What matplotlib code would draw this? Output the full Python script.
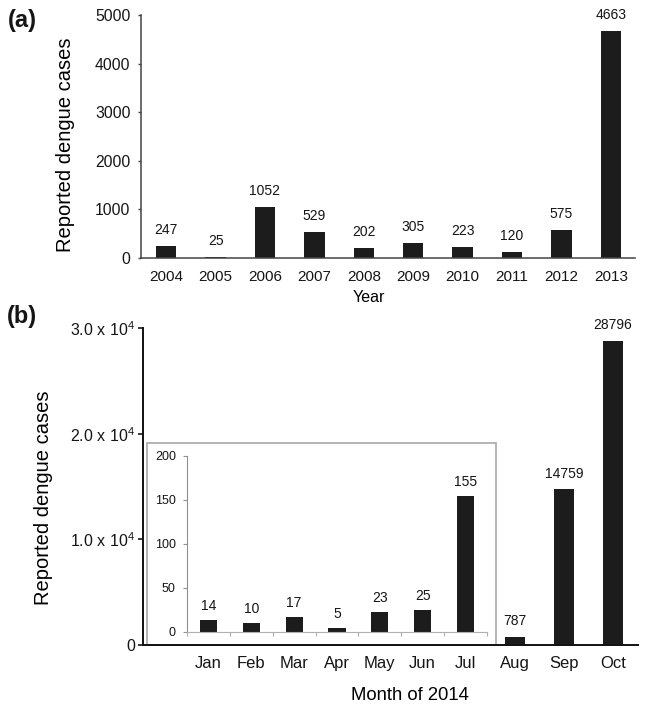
import matplotlib
matplotlib.use("Agg")
import matplotlib.pyplot as plt
import matplotlib.patches as patches
import numpy as np

plt.rcParams["font.family"] = "Liberation Sans"
plt.rcParams["mathtext.fontset"] = "custom"
plt.rcParams["mathtext.rm"] = "Liberation Sans"
plt.rcParams["mathtext.it"] = "Liberation Sans:italic"
plt.rcParams["mathtext.bf"] = "Liberation Sans:bold"
plt.rcParams["text.color"] = "#151515"
plt.rcParams["xtick.color"] = "#151515"
plt.rcParams["ytick.color"] = "#151515"

# ---- data ----
years = ["2004", "2005", "2006", "2007", "2008", "2009", "2010", "2011", "2012", "2013"]
year_cases = [247, 25, 1052, 529, 202, 305, 223, 120, 575, 4663]

months = ["Jan", "Feb", "Mar", "Apr", "May", "Jun", "Jul", "Aug", "Sep", "Oct"]
month_cases = [14, 10, 17, 5, 23, 25, 155, 787, 14759, 28796]

year_yticks = [0, 1000, 2000, 3000, 4000, 5000]
month_yticks = [0, 10000, 20000, 30000]
month_yticklabels = ["0", "1.0 x 10$^{4}$", "2.0 x 10$^{4}$", "3.0 x 10$^{4}$"]
inset_yticks = [0, 50, 100, 150, 200]
n_inset = 7  # Jan..Jul go in the zoomed inset

BAR = "#1c1c1c"
W, H = 645, 707


def px_rect(left, top, right, bottom):
    # pixel box -> figure fraction [l, b, w, h]
    return [left / W, 1 - bottom / H, (right - left) / W, (bottom - top) / H]


fig = plt.figure(figsize=(W / 100, H / 100), dpi=100)

# =============================================================================
# (a) yearly cases
# =============================================================================
ax_a = fig.add_axes(px_rect(141, 15, 635, 258))
xa = np.arange(len(years))
bars_a = ax_a.bar(xa, year_cases, width=0.41, color=BAR)
ax_a.bar_label(bars_a, padding=6.5, fontsize=10)
ax_a.set_xlim(-0.51, 9.49)
ax_a.set_ylim(0, 5000)
ax_a.set_xticks(xa, years)
ax_a.set_yticks(year_yticks)
ax_a.tick_params(axis="x", length=0, pad=8.5, labelsize=11)
ax_a.tick_params(axis="y", length=2.5, width=1, pad=5, labelsize=11.3, color="#444444")
for s in ["top", "right"]:
    ax_a.spines[s].set_visible(False)
for s in ["left", "bottom"]:
    ax_a.spines[s].set_color("#444444")
    ax_a.spines[s].set_linewidth(1.1)
ax_a.set_xlabel("Year", fontsize=11.5)
ax_a.xaxis.set_label_coords((369 - 141) / 494, -(290 - 258) / 243)
ax_a.set_ylabel("Reported dengue cases", fontsize=14.5, va="center")
ax_a.yaxis.set_label_coords(-0.152, 0.465)

fig.text(22 / W, 1 - 21 / H, "(a)", fontsize=17, fontweight="bold", ha="center", va="center")

# =============================================================================
# (b) monthly cases 2014 with inset for Jan-Jul
# =============================================================================
pos = np.arange(len(months))

# white box behind the inset
box = patches.Rectangle((147 / W, 1 - 645 / H), (496 - 147) / W, (645 - 443) / H,
                        transform=fig.transFigure, facecolor="white",
                        edgecolor="#a8a8a8", lw=1.2, zorder=0.5)
fig.add_artist(box)

ax_b = fig.add_axes(px_rect(143, 328, 638, 645))
ax_b.set_zorder(1)
ax_b.patch.set_visible(False)
bars_b = ax_b.bar(pos[n_inset:], month_cases[n_inset:], width=0.41, color=BAR)
ax_b.bar_label(bars_b, padding=6, fontsize=10)
ax_b.set_xlim(-0.59, 9.51)
ax_b.set_ylim(0, 30000)
ax_b.set_xticks(pos[n_inset:], months[n_inset:])
ax_b.set_yticks(month_yticks, month_yticklabels)
ax_b.tick_params(axis="x", length=0, pad=8, labelsize=12)
ax_b.tick_params(axis="y", length=3.5, width=1.2, pad=2, labelsize=11.5)
for s in ["top", "right"]:
    ax_b.spines[s].set_visible(False)
for s in ["left", "bottom"]:
    ax_b.spines[s].set_color("#111111")
    ax_b.spines[s].set_linewidth(1.4)
ax_b.set_xlabel("Month of 2014", fontsize=13.3)
ax_b.xaxis.set_label_coords((410 - 143) / 495, -(687 - 645) / 317)
ax_b.set_ylabel("Reported dengue cases", fontsize=14.5, va="center")
ax_b.yaxis.set_label_coords(-0.202, 0.464)

fig.text(22 / W, 1 - 316 / H, "(b)", fontsize=17, fontweight="bold", ha="center", va="center")

# inset
ax_in = fig.add_axes(px_rect(187, 456, 487, 632))
ax_in.set_zorder(2)
ax_in.patch.set_visible(False)
bars_in = ax_in.bar(pos[:n_inset], month_cases[:n_inset], width=0.4, color=BAR)
ax_in.bar_label(bars_in, padding=5, fontsize=10)
ax_in.set_xlim(-0.5, n_inset - 0.5)
ax_in.set_ylim(0, 200)
ax_in.set_xticks(pos[:n_inset], months[:n_inset])
ax_in.set_xticks(np.arange(n_inset + 1) - 0.5, minor=True)
ax_in.set_yticks(inset_yticks)
ax_in.tick_params(axis="x", which="major", length=0, pad=17.3, labelsize=12)
ax_in.tick_params(axis="x", which="minor", length=3, width=0.8, color="#b0b0b0")
ax_in.tick_params(axis="y", length=3, width=0.8, color="#909090", pad=5, labelsize=9)
for s in ["top", "right"]:
    ax_in.spines[s].set_visible(False)
ax_in.spines["left"].set_color("#909090")
ax_in.spines["bottom"].set_color("#b0b0b0")
ax_in.spines["left"].set_linewidth(0.8)
ax_in.spines["bottom"].set_linewidth(0.8)

fig.savefig("out.png", dpi=100)
